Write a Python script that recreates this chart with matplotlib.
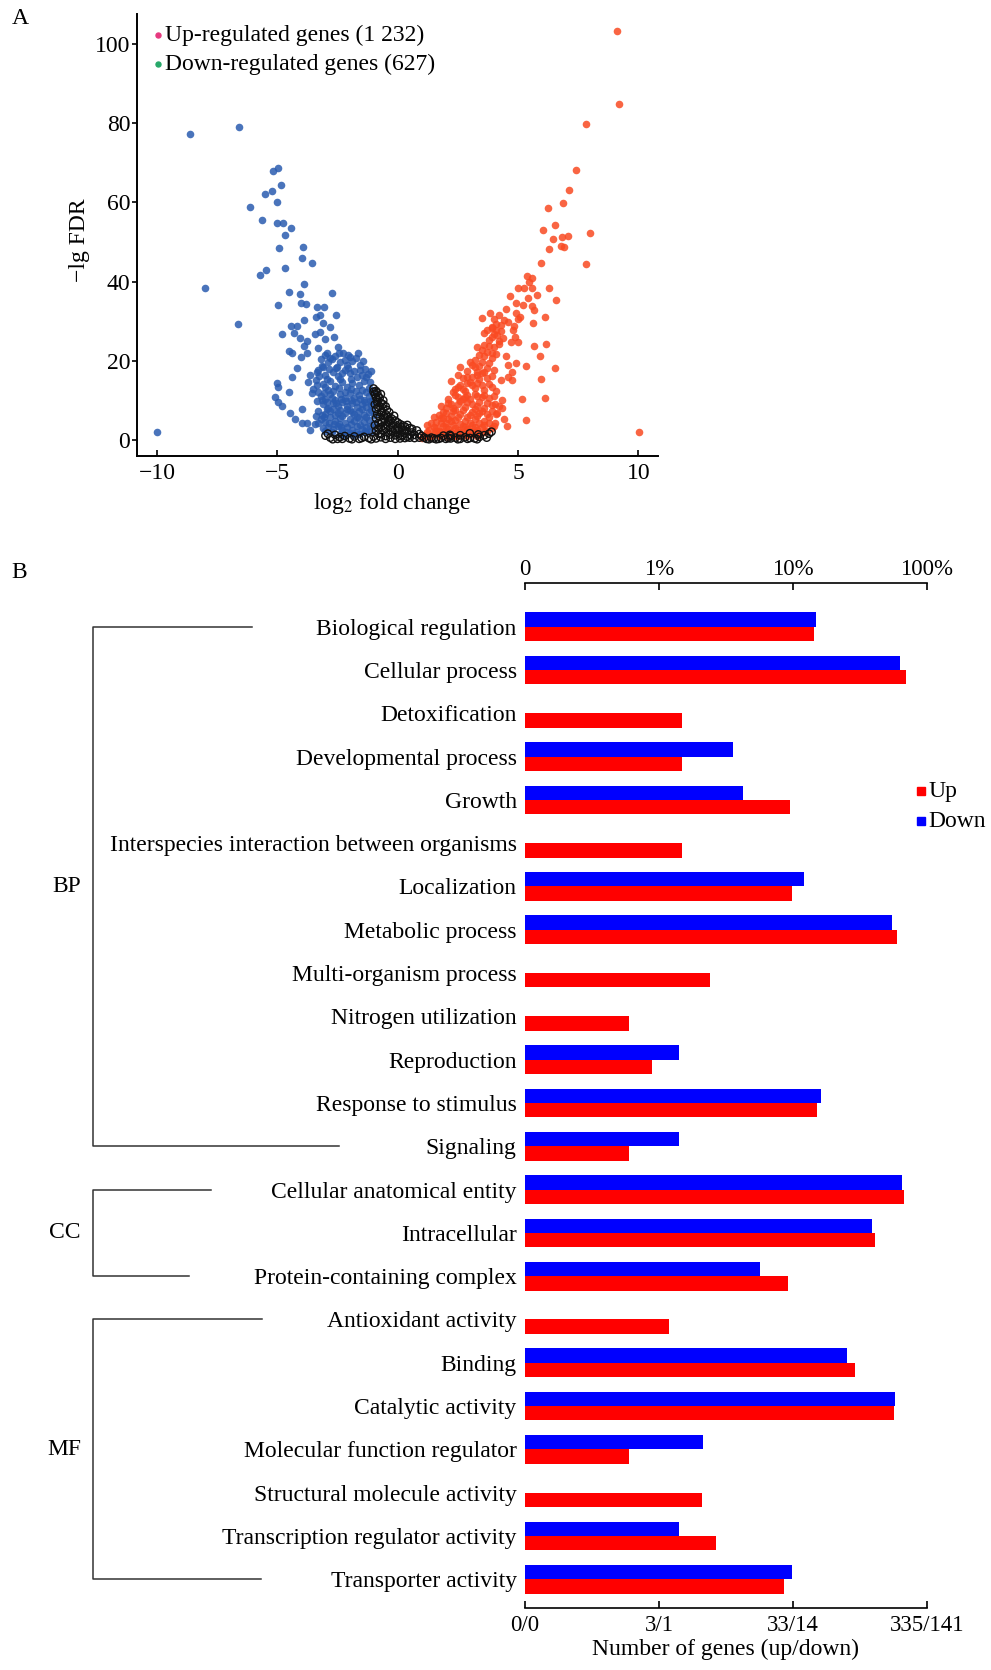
import numpy as np
import matplotlib.pyplot as plt
from matplotlib.transforms import blended_transform_factory

plt.rcParams['font.family'] = ['Liberation Serif', 'DejaVu Serif']
plt.rcParams['mathtext.fontset'] = 'stix'

# ---------------- panel A : volcano plot ----------------
# up-regulated (log2FC, -lg FDR)
up_pts = [
    (9.10, 103.3), (9.19, 84.9), (7.82, 79.8), (7.41, 68.2), (7.12, 63.1), (6.88, 59.8),
    (6.26, 58.5), (6.05, 53.0), (6.53, 54.3), (6.44, 50.7), (6.81, 51.2), (7.09, 51.5),
    (7.99, 52.4), (6.30, 48.2), (6.78, 49.0), (6.92, 48.8), (5.95, 44.6), (7.82, 44.4),
    (5.36, 41.5), (5.57, 40.8), (5.47, 40.0), (5.01, 38.5), (5.25, 38.5), (5.57, 38.4),
    (6.30, 38.5), (4.68, 36.3), (5.43, 35.8), (5.80, 36.7), (6.56, 35.4), (5.19, 34.1),
    (5.57, 33.8), (5.66, 32.8), (4.91, 32.0), (5.08, 31.1), (3.83, 32.0), (5.63, 29.6),
    (6.13, 31.0), (4.57, 29.9), (4.83, 28.8), (3.70, 27.8), (3.90, 28.6), (4.11, 26.5),
    (4.39, 25.7), (4.89, 25.9), (5.01, 24.8), (5.68, 23.8), (6.17, 24.2), (5.91, 21.3),
    (5.33, 18.8), (6.53, 18.1), (4.91, 19.4), (4.73, 17.3), (4.60, 16.0), (5.95, 15.3),
    (4.76, 15.2), (5.15, 10.3), (6.13, 10.5), (4.32, 10.1), (4.04, 9.1), (4.32, 8.0),
    (4.11, 6.7), (5.32, 5.0), (4.53, 3.5), (4.04, 4.4), (10.03, 1.9),
    # dense cloud
    (1.1, 1.2), (1.3, 0.8), (1.5, 1.6), (1.7, 0.9), (1.9, 1.4), (2.1, 0.7), (2.3, 1.5),
    (2.5, 1.0), (2.7, 1.8), (2.9, 1.1), (3.1, 1.6), (3.3, 0.9),
    (1.3, 2.6), (1.5, 3.4), (1.7, 2.4), (1.9, 3.6), (2.1, 2.8), (2.3, 3.9), (2.5, 2.5),
    (2.7, 3.5), (2.9, 2.7), (3.1, 3.8), (3.3, 2.6), (3.5, 3.3), (3.7, 2.2),
    (1.6, 4.6), (1.8, 5.5), (2.0, 4.4), (2.2, 6.1), (2.4, 5.0), (2.6, 6.6), (2.8, 4.8),
    (3.0, 6.2), (3.2, 5.2), (3.4, 6.8), (3.6, 4.9), (3.8, 5.9), (2.0, 6.8), (1.9, 7.0),
    (2.0, 8.1), (2.2, 9.2), (2.4, 7.6), (2.6, 9.8), (2.8, 8.4), (3.0, 10.3), (3.2, 7.9),
    (3.4, 9.6), (3.6, 8.2), (3.8, 10.6), (2.5, 10.9), (2.9, 11.3), (3.3, 11.0), (2.1, 10.4),
    (2.4, 12.8), (2.6, 14.0), (2.8, 12.3), (3.0, 14.6), (3.2, 13.2), (3.4, 15.3), (3.6, 12.7),
    (3.8, 14.2), (3.1, 16.0), (2.7, 15.6), (3.5, 16.8),
    (2.9, 17.5), (3.1, 18.9), (3.3, 17.2), (3.5, 19.8), (3.7, 18.1), (3.9, 20.6), (3.4, 21.4),
    (3.7, 22.3), (4.0, 23.5), (3.2, 20.3), (3.6, 24.1), (2.6, 18.4),
    (3.8, 25.2), (4.0, 26.8), (4.2, 25.0), (3.9, 28.2), (4.1, 29.4), (4.3, 27.6), (4.4, 30.2),
    (3.6, 27.0), (1.2, 3.8), (1.5, 5.9), (1.8, 8.7), (2.3, 12.0), (4.1, 12.4), (4.3, 15.1),
    (4.0, 17.6), (4.5, 21.1), (2.2, 14.8), (4.6, 18.9), (4.2, 8.6), (4.4, 5.3), (3.9, 3.0),
    (4.7, 24.8), (4.8, 27.9), (5.0, 30.5), (4.5, 33.2), (4.9, 34.6), (3.5, 30.8),
    (1.0, 0.6), (1.2, 1.9), (1.4, 1.1), (1.6, 2.2), (1.8, 1.9), (2.0, 1.8), (2.2, 2.1),
    (2.4, 0.9), (2.6, 2.0), (2.8, 1.4), (3.0, 2.2), (3.2, 1.9), (3.4, 1.5), (3.6, 1.9),
    (1.4, 4.3), (1.6, 3.1), (1.8, 4.2), (2.0, 3.3), (2.2, 4.7), (2.4, 3.1), (2.6, 4.1),
    (2.8, 3.2), (3.0, 4.4), (3.2, 3.4), (3.4, 4.3), (3.6, 3.9), (3.8, 4.2), (4.0, 3.6),
    (1.7, 6.3), (1.9, 5.6), (2.1, 5.3), (2.3, 7.2), (2.5, 5.8), (2.7, 7.5), (2.9, 5.9),
    (3.1, 7.1), (3.3, 6.1), (3.5, 7.4), (3.7, 6.6), (3.9, 7.2), (4.1, 6.5),
    (2.1, 9.3), (2.3, 8.2), (2.5, 9.1), (2.7, 10.4), (2.9, 9.6), (3.1, 9.0), (3.3, 8.6),
    (3.5, 10.8), (3.7, 9.4), (3.9, 8.9), (2.4, 11.3), (2.8, 10.9), (3.2, 11.7), (3.6, 11.4),
    (4.0, 11.1), (2.5, 13.5), (2.7, 12.9), (2.9, 14.4), (3.1, 13.9), (3.3, 14.3), (3.5, 13.8),
    (3.7, 15.6), (3.9, 13.3), (2.9, 15.8), (3.3, 16.4), (3.6, 17.3), (3.9, 16.2), (2.5, 16.5),
    (3.0, 19.6), (3.2, 18.5), (3.4, 18.6), (3.6, 21.1), (3.8, 19.4), (3.5, 22.8), (3.9, 22.0),
    (3.8, 23.8), (4.1, 21.8), (4.2, 24.2), (3.3, 23.4), (3.9, 26.0), (4.1, 27.8), (4.3, 29.0),
    (4.0, 30.6), (4.2, 31.5),
]

# down-regulated
down_pts = [
    (-8.63, 77.4), (-6.59, 79.0), (-4.99, 68.8), (-5.19, 67.9), (-4.85, 64.4), (-5.23, 62.8),
    (-5.53, 62.2), (-5.01, 60.2), (-6.15, 58.8), (-5.64, 55.6), (-5.03, 54.8), (-4.78, 54.7),
    (-4.42, 53.6), (-4.68, 51.9), (-4.92, 48.5), (-3.95, 48.7), (-3.96, 46.0), (-3.56, 44.6),
    (-4.67, 43.5), (-5.46, 43.0), (-5.71, 41.8), (-8.00, 38.4), (-3.89, 39.5), (-4.50, 37.5),
    (-4.06, 36.9), (-2.73, 37.2), (-4.99, 34.1), (-4.03, 34.7), (-3.79, 34.4), (-3.36, 33.7),
    (-3.06, 33.5), (-2.55, 31.6), (-3.41, 31.1), (-3.23, 31.6), (-3.90, 30.3), (-6.63, 29.3),
    (-4.43, 28.8), (-4.17, 28.8), (-3.12, 29.5), (-2.81, 28.6), (-4.82, 26.9), (-4.29, 27.1),
    (-4.06, 25.8), (-3.75, 25.0), (-3.43, 26.7), (-3.23, 27.4), (-3.02, 25.4), (-2.64, 26.0),
    (-3.89, 23.8), (-3.78, 21.9), (-3.31, 23.2), (-2.46, 23.6), (-4.53, 22.5), (-4.40, 21.9),
    (-4.03, 20.9), (-2.95, 21.9), (-2.81, 20.6), (-2.26, 21.9), (-1.98, 21.0), (-1.66, 22.1),
    (-4.17, 18.3), (-4.39, 16.0), (-3.63, 16.4), (-3.36, 17.3), (-3.09, 18.5), (-2.53, 18.5),
    (-2.12, 19.0), (-1.56, 19.0), (-1.36, 17.9), (-1.11, 17.4), (-5.03, 14.3), (-4.99, 13.3),
    (-4.50, 12.2), (-3.71, 14.7), (-3.57, 11.9), (-5.08, 10.9), (-4.96, 9.7), (-4.82, 8.6),
    (-4.47, 6.9), (-4.27, 5.2), (-3.99, 4.4), (-3.78, 4.4), (-3.96, 7.8), (-3.64, 2.5),
    (-3.42, 4.0), (-10.01, 1.9),
    # dense cloud
    (-3.2, 20.5), (-2.9, 19.8), (-2.6, 21.2), (-2.4, 19.6), (-2.2, 20.3), (-1.9, 19.9),
    (-3.3, 17.8), (-3.0, 16.5), (-2.7, 17.2), (-2.5, 16.1), (-2.2, 17.6), (-2.0, 16.8),
    (-1.8, 17.4), (-1.5, 16.4), (-1.3, 15.8), (-3.4, 15.2), (-3.1, 14.1), (-2.8, 14.9),
    (-2.6, 13.7), (-2.3, 14.6), (-2.1, 13.4), (-1.9, 14.3), (-1.6, 13.8), (-1.4, 14.9),
    (-1.2, 13.1), (-3.5, 13.0), (-3.3, 12.2), (-2.9, 12.6),
    (-3.2, 11.2), (-3.0, 10.4), (-2.8, 11.5), (-2.6, 10.1), (-2.4, 11.6), (-2.2, 10.7),
    (-2.0, 11.9), (-1.8, 10.5), (-1.6, 11.4), (-1.4, 10.2), (-1.2, 11.0), (-1.05, 9.8),
    (-3.1, 9.0), (-2.9, 8.2), (-2.7, 9.3), (-2.5, 8.5), (-2.3, 9.6), (-2.1, 8.7), (-1.9, 9.4),
    (-1.7, 8.4), (-1.5, 9.1), (-1.3, 8.3), (-1.1, 8.9),
    (-3.3, 7.4), (-3.0, 6.6), (-2.8, 7.2), (-2.6, 6.3), (-2.4, 7.5), (-2.2, 6.8), (-2.0, 7.6),
    (-1.8, 6.5), (-1.6, 7.3), (-1.4, 6.4), (-1.2, 7.0), (-1.0, 6.2),
    (-3.2, 5.4), (-3.0, 4.6), (-2.8, 5.7), (-2.6, 4.8), (-2.4, 5.5), (-2.2, 4.4), (-2.0, 5.3),
    (-1.8, 4.7), (-1.6, 5.6), (-1.4, 4.5), (-1.2, 5.1), (-1.0, 4.3),
    (-2.9, 3.4), (-2.7, 2.8), (-2.5, 3.6), (-2.3, 2.6), (-2.1, 3.3), (-1.9, 2.5), (-1.7, 3.5),
    (-1.5, 2.7), (-1.3, 3.2), (-1.1, 2.4), (-2.4, 1.6), (-2.0, 1.8), (-1.6, 1.5), (-1.3, 1.9),
    (-3.0, 21.5), (-2.75, 20.4), (-2.45, 22.0), (-2.05, 21.4), (-1.75, 20.6), (-1.45, 19.9),
    (-3.15, 18.6), (-2.85, 17.9), (-2.55, 18.3), (-2.3, 16.9), (-2.05, 18.2), (-1.7, 15.9),
    (-1.55, 17.8), (-1.25, 16.7), (-3.25, 16.2), (-2.95, 15.3), (-2.4, 15.5), (-1.95, 15.4),
    (-1.15, 14.6), (-3.35, 13.9), (-3.0, 13.3), (-2.7, 12.4), (-2.45, 13.1), (-2.2, 12.2),
    (-1.95, 12.8), (-1.75, 12.3), (-1.5, 12.6), (-1.3, 12.1), (-1.05, 12.0), (-3.05, 11.9),
    (-3.35, 9.9), (-3.15, 10.0), (-2.95, 9.6), (-2.75, 10.5), (-2.55, 9.4), (-2.35, 10.4),
    (-2.15, 9.9), (-1.95, 10.2), (-1.75, 9.7), (-1.55, 10.3), (-1.35, 9.5), (-1.15, 9.9),
    (-3.4, 6.1), (-3.15, 6.3), (-2.95, 7.8), (-2.7, 7.9), (-2.5, 6.9), (-2.3, 6.1), (-2.1, 7.9),
    (-1.9, 7.1), (-1.7, 5.9), (-1.5, 7.8), (-1.3, 5.8), (-1.1, 7.6), (-3.05, 5.9), (-2.45, 4.1),
    (-3.3, 4.2), (-3.1, 3.1), (-2.85, 4.2), (-2.65, 4.0), (-2.35, 3.3), (-2.15, 2.1),
    (-1.95, 4.1), (-1.75, 1.9), (-1.55, 3.9), (-1.35, 2.3), (-1.15, 3.6), (-2.75, 1.9),
    (-3.0, 2.4), (-1.85, 1.2), (-2.25, 1.1),
]

# not significant
ns_pts = [
    (-1.0, 13.0), (-0.9, 12.4), (-0.95, 11.6), (-0.8, 11.0), (-0.85, 10.2), (-0.7, 9.4),
    (-0.75, 8.6), (-0.6, 8.0), (-0.65, 7.2), (-0.5, 6.5), (-0.9, 7.8), (-0.9, 5.5),
    (-0.8, 4.3), (-0.7, 3.2), (-0.55, 5.2), (-0.4, 5.9), (-0.3, 4.8), (-0.45, 3.9),
    (-0.2, 3.7), (-0.1, 4.9), (0.0, 3.1), (0.1, 4.0), (0.2, 2.6), (0.3, 3.4), (0.4, 2.2),
    (0.5, 3.0), (0.6, 1.9), (0.8, 2.4), (0.9, 1.5), (1.0, 1.0), (-0.6, 2.4), (-0.4, 1.8),
    (-0.2, 2.2), (0.0, 1.6), (0.2, 1.2), (0.4, 0.8), (-0.8, 1.6), (-1.0, 0.9), (-0.3, 0.6),
    (0.1, 0.4), (0.7, 0.5), (-0.5, 1.0), (-0.1, 1.2), (0.3, 1.7), (-0.3, 3.0), (-0.6, 3.6),
    (0.05, 2.4), (-0.15, 6.1), (-0.35, 7.0), (-0.5, 8.5), (-0.6, 10.0), (-0.7, 11.6),
    (-0.25, 5.4), (0.15, 3.3), (0.5, 1.3),
    (-0.9, 0.4), (-0.7, 0.7), (-0.5, 0.3), (-0.3, 1.4), (-0.1, 0.3), (0.1, 1.0), (0.3, 0.5),
    (0.5, 0.6), (0.7, 1.3), (0.9, 0.6), (-0.9, 2.3), (-0.7, 1.5), (-0.5, 2.9), (-0.1, 2.6),
    (0.3, 2.3), (0.6, 2.8), (-0.8, 2.9), (-0.95, 3.7), (-0.85, 6.5), (-0.65, 4.6), (-0.55, 6.0),
    (-0.35, 5.2), (-0.75, 5.8), (-0.2, 4.3), (0.0, 4.4), (0.2, 3.7), (0.4, 3.8), (-0.4, 4.5),
    (-0.7, 7.0), (-0.45, 7.6), (-0.95, 9.0), (-0.85, 9.6), (-0.8, 8.2), (-0.6, 9.0),
    (-0.9, 10.8), (-0.75, 10.6), (-0.85, 12.0), (-1.0, 12.2),
    (-3.0, 1.1), (-2.8, 0.6), (-2.6, 1.3), (-2.4, 0.7), (-2.2, 1.0), (-2.0, 0.4), (-1.8, 0.9),
    (-1.6, 0.3), (-1.4, 0.8), (-1.2, 0.5), (-2.9, 1.6), (-2.5, 0.3), (-2.7, 0.2), (-2.3, 0.3),
    (-1.9, 0.2), (-1.5, 0.5), (-1.1, 0.2),
    (1.2, 0.3), (1.4, 0.6), (1.6, 0.2), (1.8, 0.5), (2.0, 0.3), (2.2, 0.4), (2.4, 0.6),
    (2.6, 0.3), (2.8, 0.7), (3.0, 0.5), (3.2, 0.4), (3.4, 0.8), (3.6, 1.2), (3.8, 1.6),
    (3.9, 2.1), (2.6, 1.2), (2.2, 1.0), (1.9, 1.1), (2.17, 1.3), (3.0, 1.7), (3.35, 1.4),
    (1.1, 0.6), (1.3, 0.2), (1.5, 0.4), (1.7, 0.3), (2.1, 0.5), (2.5, 0.2), (2.9, 0.3),
    (3.3, 0.2), (3.7, 0.6),
]

# ---------------- panel B : GO classification ----------------
categories = [
    'Biological regulation', 'Cellular process', 'Detoxification', 'Developmental process',
    'Growth', 'Interspecies interaction between organisms', 'Localization', 'Metabolic process',
    'Multi-organism process', 'Nitrogen utilization', 'Reproduction', 'Response to stimulus',
    'Signaling', 'Cellular anatomical entity', 'Intracellular', 'Protein-containing complex',
    'Antioxidant activity', 'Binding', 'Catalytic activity', 'Molecular function regulator',
    'Structural molecule activity', 'Transcription regulator activity', 'Transporter activity',
]
up_counts = [48, 234, 5, 5, 32, 5, 33, 201, 8, 2, 3, 51, 2, 226, 137, 31, 4, 97, 191, 2, 7, 9, 29]
down_counts = [21, 89, 0, 5, 6, 0, 17, 77, 0, 0, 2, 23, 2, 93, 55, 8, 0, 36, 82, 3, 0, 2, 14]
up_total, down_total = 335, 141
groups = [('BP', 0, 12), ('CC', 13, 15), ('MF', 16, 22)]
top_labels = ['0', '1%', '10%', '100%']
bottom_labels = ['0/0', '3/1', '33/14', '335/141']

W, H = 991, 1670
fig = plt.figure(figsize=(W / 100, H / 100), dpi=100)


def fx(px):
    return px / W


def fy(py):
    return 1 - py / H


# ---- A ----
ax = fig.add_axes([fx(137.3), fy(456), fx(658.3 - 137.3), (456 - 14) / H])
up = np.array(up_pts)
dn = np.array(down_pts)
ns = np.array(ns_pts)
ax.scatter(dn[:, 0], dn[:, 1], s=30, color='#2A5CB0', alpha=0.85, linewidths=0)
ax.scatter(up[:, 0], up[:, 1], s=30, color='#F94A22', alpha=0.85, linewidths=0)
ax.scatter(ns[:, 0], ns[:, 1], s=28, facecolors='none', edgecolors='#111111', linewidths=1.0)
ax.set_xlim(-10.82, 10.83)
ax.set_ylim(-4.04, 107.6)
ax.set_xticks([-10, -5, 0, 5, 10], labels=['\u221210', '\u22125', '0', '5', '10'])
ax.set_yticks([0, 20, 40, 60, 80, 100])
for s in ['top', 'right']:
    ax.spines[s].set_visible(False)
for s in ['left', 'bottom']:
    ax.spines[s].set_linewidth(1.4)
ax.tick_params(axis='x', direction='in', length=4, width=1.2, pad=5, labelsize=17)
ax.tick_params(axis='y', direction='out', length=3.5, width=1.2, pad=1.5, labelsize=17)
fig.text(fx(80), fy(240), '\u2212lg FDR', rotation=90, ha='center', va='center', fontsize=17)
fig.text(fx(392), fy(504), r'log$_2$ fold change', ha='center', va='center', fontsize=17)
fig.text(fx(20), fy(19), 'A', ha='center', va='center', fontsize=17)

# legend of panel A
for yy, col, txt in [(35, '#E6397F', 'Up-regulated genes (1 232)'),
                     (64.3, '#27A86A', 'Down-regulated genes (627)')]:
    fig.lines.append(plt.Line2D([fx(158.3)], [fy(yy)], marker='o', markersize=3.6, color=col,
                                linestyle='none', transform=fig.transFigure))
    fig.text(fx(165), fy(yy), txt, ha='left', va='center', fontsize=17)

# ---- B ----
bx = fig.add_axes([fx(525), fy(1608.3), fx(926.7 - 525), (1608.3 - 582.7) / H])
pos = np.arange(len(categories))
h = 0.331
up_len = [np.log10(c / up_total * 100) + 1 if c > 0 else 0 for c in up_counts]
down_len = [np.log10(c / down_total * 100) + 1 if c > 0 else 0 for c in down_counts]
bx.barh(pos - h / 2, down_len, height=h, color='#0000FF', linewidth=0)
bx.barh(pos + h / 2, up_len, height=h, color='#FF0000', linewidth=0)
bx.set_xlim(0, 3)
bx.set_ylim(22.67, -1.016)
bx.set_yticks(pos, labels=categories)
bx.tick_params(axis='y', length=0, pad=6, labelsize=17)
bx.set_xticks([0, 1, 2, 3], labels=bottom_labels)
bx.tick_params(axis='x', direction='in', length=5, width=1.2, pad=4.5, labelsize=16.5)
bx.set_xlabel('Number of genes (up/down)', fontsize=17, labelpad=2)
for s in ['left', 'right', 'top']:
    bx.spines[s].set_visible(False)
bx.spines['bottom'].set_linewidth(1.2)
sec = bx.secondary_xaxis('top')
sec.set_xticks([0, 1, 2, 3], labels=top_labels)
sec.tick_params(direction='in', length=5, width=1.2, pad=2, labelsize=16.5)
sec.spines['top'].set_linewidth(1.2)

fig.text(fx(19), fy(572), 'B', ha='center', va='center', fontsize=17)

# legend of panel B
for yy, col, txt in [(791.5, '#FF0000', 'Up'), (821.5, '#0000FF', 'Down')]:
    fig.lines.append(plt.Line2D([fx(920.5)], [fy(yy)], marker='s', markersize=5.5, color=col,
                                linestyle='none', transform=fig.transFigure))
    fig.text(fx(928), fy(yy), txt, ha='left', va='center', fontsize=17)

# group brackets
tr = blended_transform_factory(fig.transFigure, bx.transData)
bracket_ends = {'BP': (251.5, 339), 'CC': (211, 188.5), 'MF': (262, 261)}
for name, i0, i1 in groups:
    x_top, x_bot = bracket_ends[name]
    bx.plot([fx(x_top), fx(92.5), fx(92.5), fx(x_bot)], [i0, i0, i1, i1], color='#333333',
            lw=1.1, transform=tr, clip_on=False)
    bx.text(fx(81), (i0 + i1) / 2, name, transform=tr, ha='right', va='center', fontsize=17)

fig.savefig('out.png', dpi=100)
